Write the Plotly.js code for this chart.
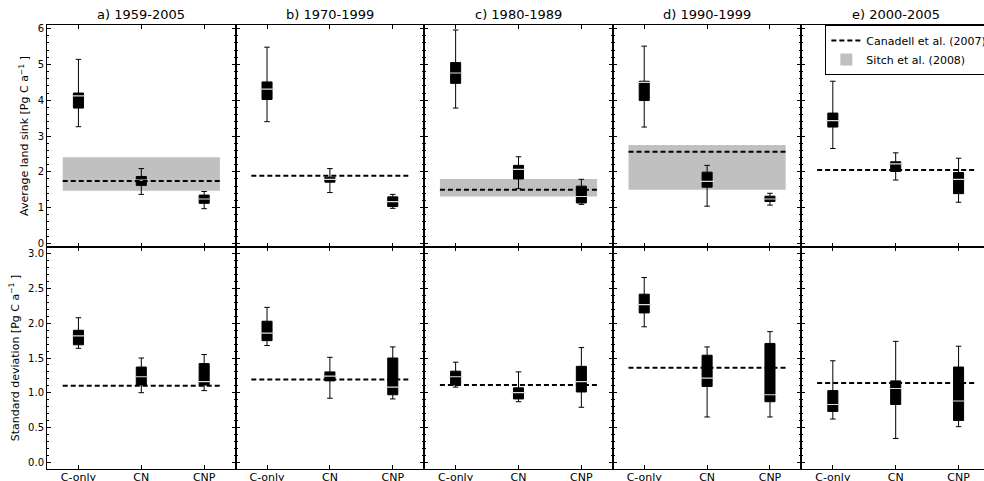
<!DOCTYPE html>
<html>
<head>
<meta charset="utf-8">
<script src="https://cdn.plot.ly/plotly-3.0.1.min.js"></script>
<style>
html,body{margin:0;padding:0;overflow:hidden;background:#fff;}
#chart{width:1000px;height:481px;}
</style>
</head>
<body>
<div id="chart"></div>
<script>
// ---- data ----
const periods = ['a) 1959-2005', 'b) 1970-1999', 'c) 1980-1989', 'd) 1990-1999', 'e) 2000-2005'];
const models = ['C-only', 'CN', 'CNP'];

// Average land sink [Pg C a-1]; per period, per model (C-only, CN, CNP)
const sinkLow  = [[3.26, 1.37, 0.97], [3.40, 1.42, 0.98], [3.78, 1.53, 1.09], [3.25, 1.04, 1.07], [2.65, 1.77, 1.15]];
const sinkQ1   = [[3.78, 1.62, 1.12], [4.02, 1.71, 1.03], [4.47, 1.80, 1.13], [3.99, 1.57, 1.17], [3.25, 2.01, 1.39]];
const sinkMed  = [[4.12, 1.77, 1.24], [4.31, 1.79, 1.17], [4.76, 2.07, 1.31], [4.50, 1.73, 1.24], [3.43, 2.22, 1.79]];
const sinkQ3   = [[4.20, 1.87, 1.35], [4.51, 1.85, 1.30], [5.05, 2.18, 1.60], [4.53, 1.99, 1.32], [3.64, 2.28, 1.98]];
const sinkHigh = [[5.14, 2.09, 1.45], [5.48, 2.09, 1.37], [5.96, 2.42, 1.79], [5.51, 2.18, 1.40], [4.53, 2.53, 2.38]];

// Standard deviation [Pg C a-1]
const sdLow  = [[1.64, 1.00, 1.03], [1.68, 0.92, 0.91], [1.08, 0.87, 0.79], [1.95, 0.65, 0.65], [0.62, 0.34, 0.51]];
const sdQ1   = [[1.69, 1.11, 1.11], [1.75, 1.17, 0.97], [1.11, 0.91, 1.01], [2.15, 1.09, 0.87], [0.73, 0.83, 0.60]];
const sdMed  = [[1.82, 1.23, 1.16], [1.86, 1.24, 1.08], [1.23, 1.00, 1.16], [2.27, 1.21, 0.97], [0.83, 1.06, 0.88]];
const sdQ3   = [[1.90, 1.37, 1.42], [2.03, 1.30, 1.50], [1.31, 1.07, 1.38], [2.42, 1.54, 1.71], [1.03, 1.17, 1.37]];
const sdHigh = [[2.08, 1.50, 1.55], [2.23, 1.51, 1.66], [1.44, 1.30, 1.65], [2.66, 1.66, 1.88], [1.46, 1.74, 1.67]];

// Canadell et al. (2007) reference values
const canadellSink = [1.74, 1.89, 1.50, 2.56, 2.05];
const canadellSd   = [1.10, 1.19, 1.11, 1.36, 1.14];
// Sitch et al. (2008) range of the land sink
const sitchLow  = [1.47, null, 1.31, 1.50, null];
const sitchHigh = [2.41, null, 1.80, 2.75, null];

// ---- styles ----
const FONT = 'DejaVu Sans, Liberation Sans, sans-serif';
const XPOS = [0, 1, 2];
const REF_X = [-0.25, 2.25];
const REF_MID = 1;
const REF_WIDTH = 2.5;
const BOX_W = 0.16;
const MEDIAN_COLOR = '#dcdcdc';

const traces = [];
const layout = {
  width: 1000, height: 481,
  margin: {l: 47, r: 8, t: 25, b: 12, pad: 0},
  paper_bgcolor: '#fff', plot_bgcolor: '#fff',
  font: {family: FONT, size: 10, color: '#000'},
  showlegend: true,
  barmode: 'overlay', boxmode: 'overlay',
  legend: {
    x: 0.8254, y: 1, xanchor: 'left', yanchor: 'top',
    bgcolor: '#fff', bordercolor: '#000', borderwidth: 1,
    font: {family: FONT, size: 11, color: '#000'},
    itemwidth: 30, tracegroupgap: 0
  },
  annotations: []
};

function addRow(row, low, q1, med, q3, high, canadell, bandLo, bandHi) {
  for (let p = 0; p < periods.length; p++) {
    const idx = row * 5 + p + 1;
    const xa = 'x' + idx, ya = 'y' + idx;
    // Sitch band
    if (bandLo && bandLo[p] !== null) {
      traces.push({
        type: 'bar', x: [REF_MID], base: [bandLo[p]], y: [bandHi[p] - bandLo[p]],
        width: [REF_WIDTH], xaxis: xa, yaxis: ya,
        marker: {color: '#c0c0c0', line: {color: '#c0c0c0', width: 0}},
        name: 'Sitch et al. (2008)', legendgroup: 'sitch', legendrank: 2,
        showlegend: (p === 0), hoverinfo: 'skip'
      });
    }
    // boxes
    traces.push({
      type: 'box', x: XPOS, xaxis: xa, yaxis: ya,
      q1: q1[p], median: med[p], q3: q3[p], lowerfence: low[p], upperfence: high[p],
      width: BOX_W, whiskerwidth: 0.55, boxpoints: false,
      fillcolor: '#000', line: {color: '#000', width: 1},
      showlegend: false, hoverinfo: 'skip'
    });
    // medians
    traces.push({
      type: 'scatter', mode: 'markers', x: XPOS, y: med[p], xaxis: xa, yaxis: ya,
      marker: {symbol: 'line-ew', size: 10, color: MEDIAN_COLOR, line: {color: MEDIAN_COLOR, width: 1.2}},
      showlegend: false, hoverinfo: 'skip'
    });
    // Canadell dashed line
    traces.push({
      type: 'scatter', mode: 'lines', x: REF_X, y: [canadell[p], canadell[p]], xaxis: xa, yaxis: ya,
      line: {color: '#000', width: 2, dash: '5px,3px'},
      name: 'Canadell et al. (2007)', legendgroup: 'canadell', legendrank: 1,
      showlegend: (row === 0 && p === 0), hoverinfo: 'skip'
    });

    const xKey = 'xaxis' + (idx === 1 ? '' : idx);
    const yKey = 'yaxis' + (idx === 1 ? '' : idx);
    layout[xKey] = {
      domain: [p * 0.2, (p + 1) * 0.2], anchor: ya, range: [-0.5, 2.5],
      tickvals: XPOS, ticktext: models, showticklabels: row === 1,
      ticks: 'inside', ticklen: 4, tickcolor: '#000', tickwidth: 1,
      ticklabelstandoff: -2,
      showline: true, linecolor: '#000', linewidth: 1, mirror: 'allticks',
      showgrid: false, zeroline: false, fixedrange: true,
      tickfont: {family: FONT, size: 11, color: '#000'}
    };
    const top = row === 0;
    layout[yKey] = {
      domain: top ? [0.5, 1] : [0, 0.5], anchor: xa,
      range: top ? [-0.1, 6.1] : [-0.1, 3.1],
      dtick: top ? 1 : 0.5, tick0: 0, tickformat: top ? 'd' : '.1f',
      showticklabels: p === 0,
      ticks: 'inside', ticklen: 4, tickcolor: '#000', tickwidth: 1,
      minor: {ticks: 'inside', ticklen: 2, dtick: top ? 0.2 : 0.1, tick0: 0, tickcolor: '#000', showgrid: false},
      showline: true, linecolor: '#000', linewidth: 1, mirror: 'allticks',
      showgrid: false, zeroline: false, fixedrange: true,
      tickfont: {family: FONT, size: 10, color: '#000'}
    };
    if (p === 0) {
      layout[yKey].title = {
        text: top ? 'Average land sink [Pg C a<sup>−1</sup> ]' : 'Standard deviation [Pg C a<sup>−1</sup> ]',
        font: {family: FONT, size: 11, color: '#000'}, standoff: 6
      };
    }
    if (top) {
      layout.annotations.push({
        text: periods[p], xref: xa + ' domain', x: 0.5, yref: 'paper', y: 1,
        xanchor: 'center', yanchor: 'bottom', yshift: 1, showarrow: false,
        font: {family: FONT, size: 13, color: '#000'}
      });
    }
  }
}

addRow(0, sinkLow, sinkQ1, sinkMed, sinkQ3, sinkHigh, canadellSink, sitchLow, sitchHigh);
addRow(1, sdLow, sdQ1, sdMed, sdQ3, sdHigh, canadellSd, null, null);

Plotly.newPlot('chart', traces, layout, {staticPlot: true, displayModeBar: false});
</script>
</body>
</html>
